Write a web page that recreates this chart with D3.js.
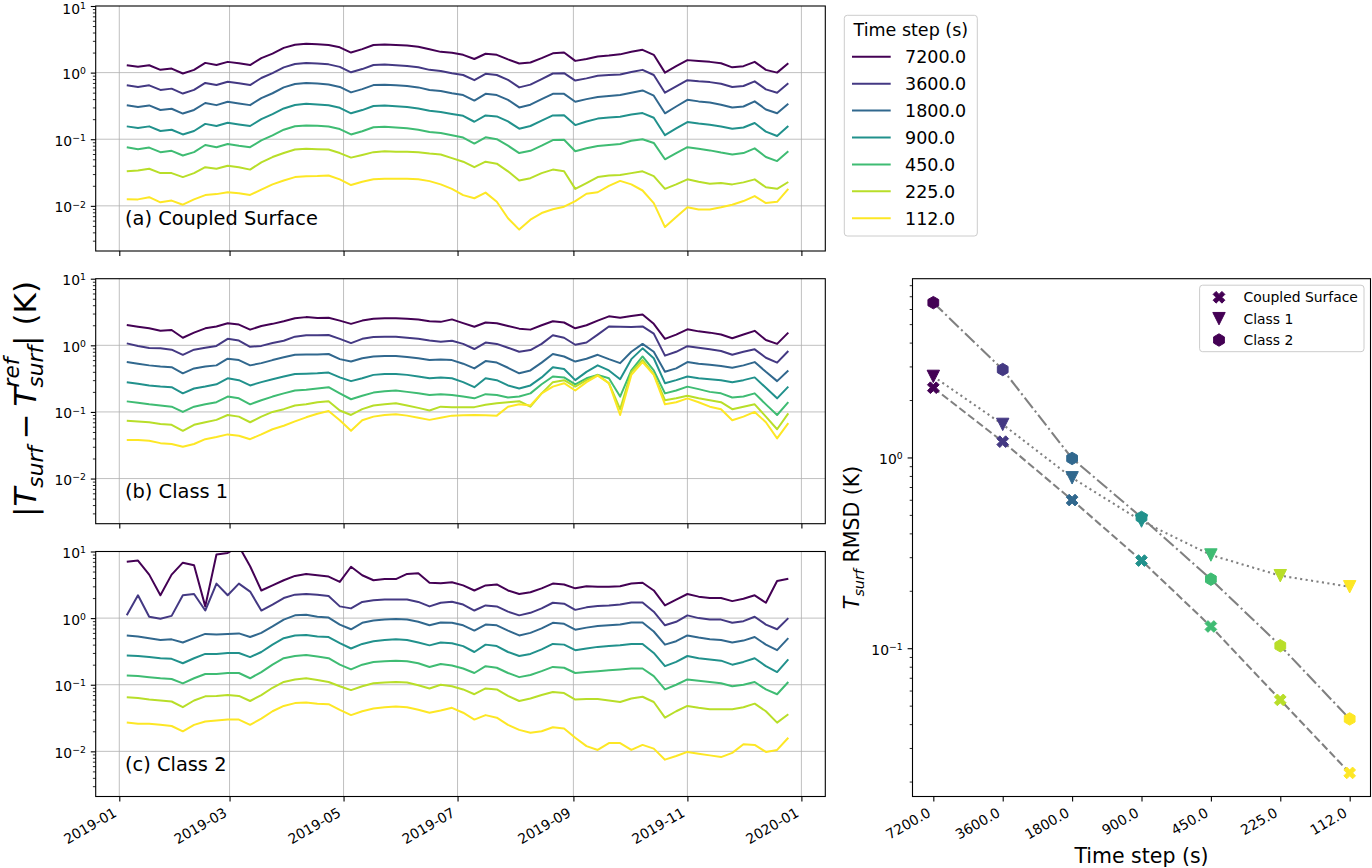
<!DOCTYPE html>
<html>
<head>
<meta charset="utf-8">
<title>Tsurf time step convergence</title>
<script src="https://cdn.jsdelivr.net/npm/d3@7"></script>
<style>
  body { margin: 0; background: #fff; }
  svg { display: block; font-family: "DejaVu Sans", sans-serif; }
</style>
</head>
<body>
<div id="chart"></div>
<script>
// ---------------- data ----------------
const steps = ["7200.0", "3600.0", "1800.0", "900.0", "450.0", "225.0", "112.0"]
const panelNames = ["(a) Coupled Surface", "(b) Class 1", "(c) Class 2"]
const rmsdNames = ["Coupled Surface", "Class 1", "Class 2"]

// the series are sampled every 6 days starting 2019-01-05
const sampleStart = "2019-01-05"
const sampleEveryDays = 6

// (a) coupled surface, |Tsurf - Tsurf_ref| (K)
const surf7200 = [1.29,1.22,1.29,1.10,1.15,0.97,1.10,1.40,1.30,1.45, 1.38,1.30,1.65,1.93,2.35,2.62,2.72,2.66,2.60,2.40, 2.00,2.25,2.60,2.65,2.60,2.55,2.45,2.25,
  2.05,1.98,1.85,1.60,1.92,1.85,1.58,1.37,1.42,1.65, 1.95,2.00,1.50,1.60,1.74,1.80,1.88,2.05,2.20,1.85, 1.00,1.25,1.54,1.50,1.45,1.38,1.20,1.25,1.45,1.10, 1.00,1.38]
const surf3600 = [0.645,0.61,0.645,0.55,0.575,0.485,0.55,0.70,0.65,0.73, 0.69,0.65,0.83,0.98,1.20,1.35,1.40,1.37,1.33,1.22, 1.01,1.13,1.30,1.32,1.29,1.26,1.20,1.10,
  1.06,0.98,0.92,0.77,0.96,0.92,0.78,0.60,0.66,0.80, 0.97,0.98,0.76,0.82,0.90,0.92,0.94,1.02,1.10,0.92, 0.50,0.62,0.77,0.74,0.72,0.68,0.61,0.63,0.74,0.56, 0.50,0.69]
const surf1800 = [0.323,0.305,0.322,0.275,0.287,0.243,0.275,0.35,0.325,0.365, 0.345,0.325,0.415,0.49,0.60,0.675,0.70,0.685,0.665,0.61, 0.505,0.565,0.65,0.66,0.645,0.63,0.60,0.55,
  0.53,0.49,0.46,0.38,0.48,0.46,0.39,0.30,0.33,0.40, 0.48,0.48,0.365,0.40,0.43,0.445,0.46,0.50,0.54,0.45, 0.245,0.31,0.39,0.37,0.355,0.33,0.30,0.31,0.37,0.28, 0.245,0.34]
const surf900 = [0.156,0.148,0.156,0.133,0.139,0.118,0.133,0.17,0.158,0.177, 0.167,0.158,0.20,0.238,0.29,0.327,0.34,0.332,0.323,0.296, 0.245,0.274,0.315,0.32,0.313,0.305,0.29,0.267,
  0.256,0.24,0.225,0.183,0.228,0.22,0.185,0.144,0.158,0.19, 0.228,0.23,0.163,0.185,0.204,0.212,0.218,0.235,0.247,0.21, 0.115,0.145,0.181,0.172,0.165,0.155,0.144,0.15,0.175,0.13, 0.112,0.158]
const surf450 = [0.076,0.071,0.075,0.064,0.067,0.057,0.064,0.082,0.076,0.085, 0.080,0.076,0.096,0.114,0.139,0.157,0.161,0.159,0.155,0.142, 0.118,0.132,0.151,0.154,0.150,0.146,0.139,0.128,
  0.124,0.115,0.106,0.086,0.107,0.10,0.08,0.062,0.067,0.08, 0.097,0.098,0.066,0.073,0.079,0.082,0.085,0.095,0.10,0.088, 0.05,0.062,0.076,0.072,0.068,0.063,0.059,0.062,0.073,0.054, 0.047,0.066]
const surf225 = [0.033,0.034,0.036,0.031,0.031,0.027,0.031,0.038,0.036,0.040, 0.038,0.035,0.045,0.054,0.062,0.070,0.072,0.071,0.070,0.062, 0.053,0.058,0.064,0.066,0.065,0.065,0.064,0.061,
  0.059,0.052,0.046,0.038,0.046,0.043,0.033,0.024,0.026,0.031, 0.035,0.033,0.018,0.022,0.027,0.0285,0.029,0.031,0.033,0.028, 0.018,0.021,0.025,0.023,0.0215,0.022,0.021,0.0225,0.025,0.019, 0.018,0.0228]
const surf112 = [0.0126,0.0125,0.0135,0.0113,0.012,0.0104,0.0125,0.0145,0.015,0.016, 0.0155,0.0146,0.0175,0.021,0.024,0.027,0.0278,0.028,0.0285,0.025, 0.0205,0.023,0.025,0.0255,0.0255,0.0255,0.025,0.0235,
  0.021,0.018,0.0145,0.013,0.0158,0.0115,0.0065,0.0044,0.0062,0.0078, 0.0089,0.0097,0.0118,0.0152,0.016,0.020,0.0237,0.021,0.017,0.011, 0.0048,0.0068,0.0095,0.0088,0.0088,0.0095,0.0104,0.0118,0.014,0.011, 0.0115,0.018]

// (b) class 1
const c1_7200 = [2.02,1.90,1.80,1.66,1.70,1.30,1.55,1.80,1.92,2.15, 2.05,1.72,1.95,2.10,2.30,2.55,2.65,2.58,2.60,2.35, 2.10,2.35,2.50,2.55,2.55,2.50,2.45,2.30,
  2.25,2.45,2.15,1.90,2.20,2.15,1.95,1.78,1.72,2.00, 2.30,2.20,1.80,2.00,2.35,2.72,2.60,2.75,2.90,2.10, 1.25,1.45,1.74,1.62,1.55,1.45,1.28,1.45,1.65,1.20, 1.05,1.55]
const c1_3600 = [1.07,0.98,0.91,0.90,0.86,0.72,0.86,0.92,0.98,1.25, 1.18,0.95,0.98,1.08,1.17,1.35,1.42,1.42,1.43,1.25, 1.08,1.25,1.33,1.35,1.35,1.30,1.25,1.18,
  1.13,1.17,1.05,0.88,1.10,1.05,0.92,0.80,0.85,1.05, 1.42,1.30,1.02,1.10,1.45,1.92,1.90,1.88,1.92,1.50, 0.70,0.80,0.97,0.92,0.87,0.82,0.72,0.80,0.87,0.65, 0.55,0.82]
const c1_1800 = [0.56,0.53,0.50,0.48,0.47,0.38,0.45,0.48,0.50,0.63, 0.60,0.50,0.54,0.60,0.66,0.72,0.73,0.73,0.74,0.62, 0.57,0.64,0.68,0.69,0.69,0.67,0.64,0.60,
  0.61,0.60,0.53,0.45,0.58,0.55,0.46,0.38,0.42,0.55, 0.74,0.68,0.57,0.63,0.72,0.62,0.54,0.80,1.05,0.80, 0.40,0.45,0.56,0.53,0.51,0.49,0.46,0.50,0.56,0.40, 0.29,0.42]
const c1_900 = [0.28,0.265,0.25,0.24,0.235,0.19,0.225,0.24,0.26,0.32, 0.30,0.25,0.28,0.31,0.34,0.37,0.375,0.38,0.39,0.33, 0.29,0.32,0.36,0.37,0.37,0.36,0.34,0.32,
  0.33,0.32,0.28,0.235,0.32,0.30,0.25,0.225,0.25,0.33, 0.47,0.44,0.30,0.40,0.50,0.42,0.31,0.62,0.90,0.64, 0.27,0.30,0.34,0.32,0.31,0.30,0.28,0.30,0.33,0.23, 0.16,0.24]
const c1_450 = [0.144,0.137,0.13,0.125,0.12,0.10,0.12,0.13,0.14,0.17, 0.16,0.13,0.15,0.17,0.19,0.21,0.215,0.225,0.235,0.19, 0.155,0.175,0.195,0.205,0.21,0.20,0.19,0.18,
  0.185,0.18,0.17,0.16,0.185,0.18,0.165,0.17,0.19,0.26, 0.34,0.33,0.26,0.32,0.36,0.32,0.17,0.42,0.68,0.42, 0.19,0.21,0.24,0.22,0.20,0.19,0.165,0.17,0.19,0.13, 0.09,0.14]
const c1_225 = [0.074,0.072,0.07,0.066,0.064,0.052,0.064,0.07,0.076,0.09, 0.085,0.07,0.085,0.10,0.11,0.125,0.13,0.14,0.145,0.105, 0.09,0.11,0.125,0.13,0.135,0.125,0.115,0.105,
  0.12,0.118,0.118,0.118,0.128,0.135,0.14,0.145,0.12,0.19, 0.28,0.30,0.24,0.30,0.36,0.27,0.11,0.40,0.60,0.37, 0.15,0.16,0.175,0.16,0.15,0.14,0.11,0.12,0.13,0.085, 0.055,0.095]
const c1_112 = [0.038,0.038,0.037,0.034,0.033,0.030,0.033,0.039,0.042,0.046, 0.044,0.039,0.046,0.055,0.062,0.072,0.083,0.094,0.103,0.075, 0.052,0.075,0.085,0.09,0.092,0.088,0.082,0.076,
  0.082,0.088,0.089,0.09,0.089,0.088,0.12,0.13,0.125,0.19, 0.24,0.27,0.21,0.28,0.35,0.27,0.09,0.36,0.56,0.36, 0.13,0.14,0.16,0.14,0.12,0.11,0.075,0.085,0.10,0.07, 0.04,0.068]

// (c) class 2
const c2_7200 = [7.0,7.3,4.5,2.2,4.5,6.8,6.2,1.5,9.0,9.5, 12,6.0,2.6,3.1,3.7,4.3,4.6,4.4,4.2,3.5, 5.9,4.4,3.7,3.85,3.85,4.6,4.7,3.4,
  3.35,3.45,3.1,2.6,3.1,3.2,2.6,2.3,2.45,2.8, 3.3,3.2,2.8,3.0,2.95,2.95,3.0,3.3,3.4,2.6, 1.55,1.9,2.3,2.1,2.0,2.0,1.8,1.95,2.2,1.7, 3.6,3.9]
const c2_3600 = [1.1,2.2,1.05,0.98,1.08,2.2,2.3,1.3,3.3,2.2, 3.3,2.5,1.3,1.6,2.0,2.25,2.3,2.25,2.15,1.5, 1.4,1.75,1.85,1.9,1.9,1.9,1.75,1.5,
  1.7,1.76,1.6,1.3,1.55,1.5,1.25,1.1,1.2,1.4, 1.7,1.65,1.33,1.45,1.52,1.55,1.6,1.72,1.72,1.25, 0.78,0.88,1.1,1.0,0.95,0.95,0.85,0.9,1.05,0.80, 0.68,1.0]
const c2_1800 = [0.55,0.53,0.50,0.47,0.48,0.43,0.50,0.58,0.57,0.58, 0.59,0.52,0.60,0.75,0.95,1.10,1.12,1.05,1.02,0.80, 0.68,0.85,0.92,0.95,0.97,0.95,0.88,0.78,
  0.86,0.85,0.78,0.65,0.80,0.78,0.65,0.55,0.60,0.70, 0.85,0.82,0.67,0.72,0.76,0.78,0.80,0.86,0.86,0.63, 0.40,0.45,0.55,0.51,0.48,0.47,0.43,0.46,0.52,0.40, 0.33,0.50]
const c2_900 = [0.275,0.27,0.26,0.25,0.245,0.21,0.25,0.29,0.29,0.30, 0.30,0.26,0.31,0.40,0.50,0.55,0.56,0.53,0.52,0.42, 0.35,0.41,0.45,0.47,0.48,0.47,0.43,0.39,
  0.43,0.42,0.38,0.31,0.40,0.38,0.31,0.27,0.29,0.34, 0.41,0.40,0.33,0.35,0.37,0.38,0.39,0.41,0.41,0.30, 0.19,0.22,0.27,0.25,0.24,0.23,0.20,0.22,0.25,0.19, 0.155,0.24]
const c2_450 = [0.138,0.135,0.13,0.125,0.122,0.105,0.125,0.145,0.145,0.15, 0.15,0.125,0.155,0.20,0.25,0.27,0.28,0.265,0.25,0.20, 0.17,0.20,0.22,0.225,0.23,0.225,0.21,0.185,
  0.205,0.195,0.175,0.15,0.19,0.18,0.15,0.13,0.14,0.16, 0.185,0.18,0.15,0.155,0.16,0.165,0.17,0.175,0.175,0.135, 0.085,0.10,0.12,0.115,0.11,0.105,0.095,0.10,0.11,0.085, 0.072,0.11]
const c2_225 = [0.065,0.063,0.06,0.058,0.056,0.046,0.058,0.067,0.068,0.07, 0.068,0.057,0.07,0.09,0.11,0.12,0.125,0.118,0.11,0.095, 0.083,0.095,0.105,0.108,0.11,0.108,0.098,0.088,
  0.10,0.095,0.085,0.072,0.088,0.085,0.068,0.057,0.062,0.07, 0.078,0.075,0.06,0.061,0.061,0.058,0.055,0.062,0.066,0.055, 0.032,0.04,0.048,0.045,0.043,0.043,0.043,0.046,0.052,0.04, 0.027,0.036]
const c2_112 = [0.027,0.026,0.026,0.025,0.024,0.02,0.025,0.028,0.029,0.03, 0.03,0.025,0.031,0.04,0.048,0.053,0.054,0.052,0.051,0.042, 0.035,0.04,0.044,0.046,0.047,0.046,0.042,0.038,
  0.041,0.045,0.038,0.03,0.035,0.032,0.025,0.021,0.019,0.02, 0.023,0.022,0.016,0.012,0.0105,0.0133,0.0133,0.0105,0.0125,0.011, 0.0075,0.0085,0.0098,0.0092,0.0087,0.0082,0.0095,0.0128,0.0125,0.0098, 0.0105,0.016]

// RMSD against the reference run (K), one value per time step
const rmsdSurf   = [2.32, 1.21, 0.598, 0.288, 0.130, 0.0536, 0.0222]
const rmsdClass1 = [2.66, 1.49, 0.782, 0.464, 0.308, 0.240, 0.210]
const rmsdClass2 = [6.48, 2.89, 0.988, 0.485, 0.230, 0.103, 0.0426]

// ---------------- styles / layout ----------------
const palette = ["#440154", "#443983", "#31688e", "#21918c", "#3fbc73", "#b8de29", "#fde725"]
const panelSeries = [
  [surf7200, surf3600, surf1800, surf900, surf450, surf225, surf112],
  [c1_7200, c1_3600, c1_1800, c1_900, c1_450, c1_225, c1_112],
  [c2_7200, c2_3600, c2_1800, c2_900, c2_450, c2_225, c2_112]
]
const rmsdSeries = [rmsdSurf, rmsdClass1, rmsdClass2]
const rmsdDash = ["7.7,3.3", "2.1,3.4", "13.3,3.3,2.1,3.3"]
const rmsdMarker = ["x", "v", "h"]

const width = 1372, height = 868
const tsLeft = 95.7, tsRight = 825.3
const tsTops = [6, 278.7, 551.5]
const tsHeight = 245
const rLeft = 912.5, rRight = 1370.5, rTop = 278.7, rBottom = 796.5
const tickFont = 13.9
const majorLen = 4.9, minorLen = 2.8, pad = 4.9

const svg = d3.select("#chart").append("svg")
  .attr("width", width)
  .attr("height", height)

const start = d3.timeParse("%Y-%m-%d")(sampleStart)
const dates = surf7200.map((d, i) => d3.timeDay.offset(start, i * sampleEveryDays))

const x = d3.scaleTime()
  .domain([new Date(2018, 11, 19, 9), new Date(2020, 0, 13, 19)])
  .range([tsLeft, tsRight])
const monthTicks = d3.timeMonth.every(2).range(new Date(2019, 0, 1), new Date(2020, 0, 2))

function minorLogTicks(lo, hi) {
  const out = []
  for (let e = -3; e <= 1; e++)
    for (let k = 2; k <= 9; k++) {
      const v = k * Math.pow(10, e)
      if (v >= lo && v <= hi) out.push(v)
    }
  return out
}

// y tick label as 10^e
function powLabel(sel, e) {
  sel.text(null)
  sel.append("tspan").text("10")
  sel.append("tspan")
    .attr("dy", -4.8)
    .style("font-size", "9.3px")
    .text(e < 0 ? "\u2212" + (-e) : e)
}

function styleAxis(g, w) {
  g.select(".domain").remove()
  g.selectAll(".tick line").attr("stroke", "#000").attr("stroke-width", w)
}

function logAxis(yScale, lo, hi, xPos) {
  const majors = [0.01, 0.1, 1, 10].filter(v => v >= lo * 0.999 && v <= hi * 1.001)
  const gMinor = svg.append("g").attr("transform", `translate(${xPos},0)`)
    .call(d3.axisLeft(yScale).tickValues(minorLogTicks(lo, hi)).tickSize(minorLen).tickFormat(""))
  styleAxis(gMinor, 0.83)
  const gMajor = svg.append("g").attr("transform", `translate(${xPos},0)`)
    .call(d3.axisLeft(yScale).tickValues(majors).tickSize(majorLen).tickPadding(pad).tickFormat(""))
  styleAxis(gMajor, 1.1)
  gMajor.selectAll(".tick text")
    .attr("x", -(majorLen + pad))
    .attr("dy", null)
    // keep the topmost label inside the page
    .attr("y", v => Math.max(6, 13.6 - yScale(v)))
    .attr("fill", "#000")
    .style("font-size", tickFont + "px")
    .style("font-family", "DejaVu Sans")
    .attr("text-anchor", "end")
    .each(function(v) { powLabel(d3.select(this), Math.round(Math.log10(v))) })
}

// rotated tick labels like matplotlib's autofmt_xdate (30 deg, right aligned)
function slantLabels(positions, labels, axisBottom) {
  svg.append("g").selectAll("text")
    .data(positions)
    .join("text")
    .attr("transform", (d, i) => `translate(${d - 1.6},${axisBottom + majorLen + pad + 9.2}) rotate(-30)`)
    .attr("text-anchor", "end")
    .style("font-size", tickFont + "px")
    .text((d, i) => labels[i])
}

// ---------------- time series panels ----------------
const fmtMonth = d3.timeFormat("%Y-%m")

panelSeries.forEach((series, k) => {
  const top = tsTops[k], bottom = top + tsHeight
  const y = d3.scaleLog().domain([0.0021, 10]).range([bottom, top])

  svg.append("clipPath").attr("id", "clip" + k)
    .append("rect")
    .attr("x", tsLeft).attr("y", top)
    .attr("width", tsRight - tsLeft).attr("height", tsHeight)

  // grid
  const grid = svg.append("g").attr("stroke", "#b0b0b0").attr("stroke-width", 0.8)
  grid.selectAll(".gx").data(monthTicks).join("line")
    .attr("x1", d => x(d)).attr("x2", d => x(d))
    .attr("y1", top).attr("y2", bottom)
  grid.selectAll(".gy").data([0.01, 0.1, 1]).join("line")
    .attr("x1", tsLeft).attr("x2", tsRight)
    .attr("y1", d => y(d)).attr("y2", d => y(d))

  const line = d3.line()
    .x((d, i) => x(dates[i]))
    .y(d => y(d))

  svg.append("g").attr("clip-path", `url(#clip${k})`)
    .selectAll("path")
    .data(series)
    .join("path")
    .attr("d", line)
    .attr("fill", "none")
    .attr("stroke", (d, i) => palette[i])
    .attr("stroke-width", 2)
    .attr("stroke-linejoin", "round")

  // frame
  svg.append("rect")
    .attr("x", tsLeft).attr("y", top)
    .attr("width", tsRight - tsLeft).attr("height", tsHeight)
    .attr("fill", "none").attr("stroke", "#000").attr("stroke-width", 1.1)

  logAxis(y, 0.0021, 10, tsLeft)

  const gx = svg.append("g").attr("transform", `translate(0,${bottom})`)
    .call(d3.axisBottom(x).tickValues(monthTicks).tickSize(majorLen).tickFormat(""))
  styleAxis(gx, 1.1)

  if (k === 2) slantLabels(monthTicks.map(d => x(d)), monthTicks.map(fmtMonth), bottom)

  svg.append("text")
    .attr("x", tsLeft + 29.3)
    .attr("y", bottom - 26)
    .style("font-size", "19.4px")
    .text(panelNames[k])
})

// legend for the time steps
const leg = svg.append("g")
leg.append("rect")
  .attr("x", 844.3).attr("y", 15.3).attr("width", 133).attr("height", 220.7)
  .attr("rx", 3).attr("fill", "#fff").attr("fill-opacity", 0.8)
  .attr("stroke", "#cccccc").attr("stroke-width", 1)
leg.append("text")
  .attr("x", 910.8).attr("y", 35.8)
  .attr("text-anchor", "middle")
  .style("font-size", "17.5px")
  .text("Time step (s)")
const legRows = leg.selectAll(".row").data(steps).join("g")
  .attr("transform", (d, i) => `translate(0,${56.7 + i * 26.93})`)
legRows.append("line")
  .attr("x1", 852).attr("x2", 890.7)
  .attr("stroke", (d, i) => palette[i]).attr("stroke-width", 2)
legRows.append("text")
  .attr("x", 905).attr("y", 6.4)
  .style("font-size", "17.5px")
  .text(d => d)

// ---------------- RMSD panel ----------------
const xr = d3.scaleLinear().domain([-0.3, 6.3]).range([rLeft, rRight])
const yr = d3.scaleLog().domain([0.0167, 8.65]).range([rBottom, rTop])

function markerPath(kind, m) {
  const r = m / 2
  if (kind === "v") return `M${-r},${-r}L${r},${-r}L0,${r}Z`
  if (kind === "h") {
    const pts = d3.range(6).map(j => {
      const a = Math.PI / 2 + j * Math.PI / 3
      return [r * Math.cos(a), -r * Math.sin(a)]
    })
    return "M" + pts.map(p => p.join(",")).join("L") + "Z"
  }
  // filled X: a plus with arms 1/3 wide, turned 45 degrees
  const u = m / 6
  const plus = [[-1,-3],[1,-3],[1,-1],[3,-1],[3,1],[1,1],[1,3],[-1,3],[-1,1],[-3,1],[-3,-1],[-1,-1]]
  const c = Math.SQRT1_2
  return "M" + plus.map(([px, py]) => [(px - py) * c * u, (px + py) * c * u].join(",")).join("L") + "Z"
}

const rLine = d3.line()
  .x((d, i) => xr(i))
  .y(d => yr(d))

svg.append("g").selectAll("path")
  .data(rmsdSeries)
  .join("path")
  .attr("d", rLine)
  .attr("fill", "none")
  .attr("stroke", "#808080")
  .attr("stroke-width", 2.08)
  .attr("stroke-dasharray", (d, i) => rmsdDash[i])

rmsdSeries.forEach((s, k) => {
  svg.append("g").selectAll("path")
    .data(s)
    .join("path")
    .attr("transform", (d, i) => `translate(${xr(i)},${yr(d)})`)
    .attr("d", markerPath(rmsdMarker[k], 12.4))
    .attr("fill", (d, i) => palette[i])
    .attr("stroke", (d, i) => palette[i])
    .attr("stroke-width", 1)
})

svg.append("rect")
  .attr("x", rLeft).attr("y", rTop)
  .attr("width", rRight - rLeft).attr("height", rBottom - rTop)
  .attr("fill", "none").attr("stroke", "#000").attr("stroke-width", 1.1)

logAxis(yr, 0.0167, 8.65, rLeft)

const gxr = svg.append("g").attr("transform", `translate(0,${rBottom})`)
  .call(d3.axisBottom(xr).tickValues(d3.range(steps.length)).tickSize(majorLen).tickFormat(""))
styleAxis(gxr, 1.1)
slantLabels(steps.map((d, i) => xr(i)), steps, rBottom)

// RMSD legend
const leg2 = svg.append("g")
leg2.append("rect")
  .attr("x", 1199.6).attr("y", 285.2).attr("width", 164.4).attr("height", 66.5)
  .attr("rx", 3).attr("fill", "#fff").attr("fill-opacity", 0.8)
  .attr("stroke", "#cccccc").attr("stroke-width", 1)
const leg2Rows = leg2.selectAll(".row").data(rmsdNames).join("g")
  .attr("transform", (d, i) => `translate(0,${297.3 + i * 21.35})`)
leg2Rows.append("path")
  .attr("transform", "translate(1219,0)")
  .attr("d", (d, i) => markerPath(rmsdMarker[i], 12.4))
  .attr("fill", palette[0]).attr("stroke", palette[0]).attr("stroke-width", 1)
leg2Rows.append("text")
  .attr("x", 1243.5).attr("y", 5)
  .style("font-size", tickFont + "px")
  .text(d => d)

// ---------------- axis labels (math text) ----------------
function mathText(g, pieces) {
  let cx = 0
  pieces.forEach(p => {
    if (p.gap) { cx += p.gap; return }
    const nodes = (p.stack || [p]).map(q => g.append("text")
      .attr("x", cx)
      .attr("y", q.shift || 0)
      .style("font-size", q.size + "px")
      .style("font-style", q.italic ? "italic" : "normal")
      .text(q.text))
    cx += d3.max(nodes, n => n.node().getComputedTextLength())
  })
  return cx
}

function rotatedLabel(cx, cy, pieces) {
  const outer = svg.append("g").attr("transform", `translate(${cx},${cy}) rotate(-90)`)
  const inner = outer.append("g")
  const w = mathText(inner, pieces)
  inner.attr("transform", `translate(${-w / 2},0)`)
}

const F = 31
rotatedLabel(36, 399, [
  { text: "|", size: F },
  { text: "T", size: F, italic: true },
  { text: "surf", size: 0.7 * F, italic: true, shift: 0.22 * F },
  { gap: 0.22 * F },
  { text: "\u2212", size: F },
  { gap: 0.22 * F },
  { text: "T", size: F, italic: true },
  { stack: [
    { text: "ref", size: 0.7 * F, italic: true, shift: -0.54 * F },
    { text: "surf", size: 0.7 * F, italic: true, shift: 0.22 * F }
  ] },
  { text: "|", size: F },
  { gap: 0.32 * F },
  { text: "(K)", size: F }
])

const F2 = 20.5
rotatedLabel(859, 537.5, [
  { text: "T", size: F2, italic: true },
  { text: "surf", size: 0.7 * F2, italic: true, shift: 0.22 * F2 },
  { gap: 0.32 * F2 },
  { text: "RMSD (K)", size: F2 }
])

svg.append("text")
  .attr("x", (rLeft + rRight) / 2)
  .attr("y", 863)
  .attr("text-anchor", "middle")
  .style("font-size", F2 + "px")
  .text("Time step (s)")
</script>
</body>
</html>
